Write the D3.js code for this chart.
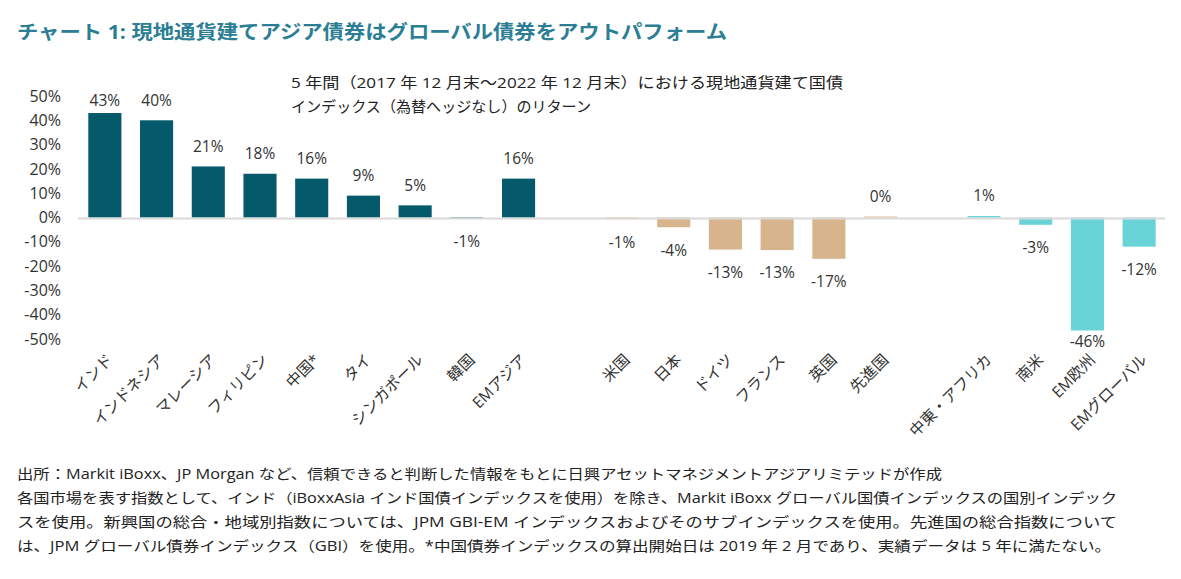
<!DOCTYPE html>
<html><head><meta charset="utf-8">
<script src="https://cdn.jsdelivr.net/npm/d3@7"></script>
<style>
html,body{margin:0;padding:0;background:#fff;}
svg{display:block;font-family:"Open Sans","Noto Sans CJK JP",sans-serif;}
</style></head>
<body>
<svg id="chart" width="1181" height="579"></svg>
<script>
const asiaCats = ["インド","インドネシア","マレーシア","フィリピン","中国*","タイ","シンガポール","韓国","EMアジア"];
const asiaVals = [43, 40, 21, 18, 16, 9, 5, -0.3, 16];
const asiaLabels = ["43%","40%","21%","18%","16%","9%","5%","-1%","16%"];
const dmCats = ["米国","日本","ドイツ","フランス","英国","先進国"];
const dmVals = [-0.7, -4, -13.2, -13.4, -17, 0.4];
const dmLabels = ["-1%","-4%","-13%","-13%","-17%","0%"];
const emCats = ["中東・アフリカ","南米","EM欧州","EMグローバル"];
const emVals = [0.6, -3, -46.5, -12];
const emLabels = ["1%","-3%","-46%","-12%"];
const yTicks = [50,40,30,20,10,0,-10,-20,-30,-40,-50];
const colors = {asia:"#04596A", dm:"#D7B48C", em:"#68D4D7"};

const titleText = "チャート 1: 現地通貨建てアジア債券はグローバル債券をアウトパフォーム";
const subtitleLines = ["5 年間（2017 年 12 月末～2022 年 12 月末）における現地通貨建て国債","インデックス（為替ヘッジなし）のリターン"];
const subtitleWidths = [552, 300];
const footLines = [
 "出所：Markit iBoxx、JP Morgan など、信頼できると判断した情報をもとに日興アセットマネジメントアジアリミテッドが作成",
 "各国市場を表す指数として、インド（iBoxxAsia インド国債インデックスを使用）を除き、Markit iBoxx グローバル国債インデックスの国別インデック",
 "スを使用。新興国の総合・地域別指数については、JPM  GBI-EM  インデックスおよびそのサブインデックスを使用。先進国の総合指数について",
 "は、JPM グローバル債券インデックス（GBI）を使用。*中国債券インデックスの算出開始日は 2019 年 2 月であり、実績データは 5 年に満たない。"
];
const footWidths = [925, 1100, 1100, 1094];

const data = [];
asiaCats.forEach((c,i)=>data.push({key:c,label:c,v:asiaVals[i],t:asiaLabels[i],g:"asia"}));
data.push({key:"gap1",label:"",v:null});
dmCats.forEach((c,i)=>data.push({key:c,label:c,v:dmVals[i],t:dmLabels[i],g:"dm"}));
data.push({key:"gap2",label:"",v:null});
emCats.forEach((c,i)=>data.push({key:c,label:c,v:emVals[i],t:emLabels[i],g:"em"}));

const svg = d3.select("#chart");
const x = d3.scaleBand().domain(data.map(d=>d.key)).range([79,1165]).paddingInner(0.36).paddingOuter(0.18);
const y = d3.scaleLinear().domain([-50,50]).range([339,96]);

// title
svg.append("text").attr("x",17).attr("y",39).attr("font-size",19).attr("font-weight","bold")
  .attr("fill","#2B7E94").attr("textLength",710).attr("lengthAdjust","spacingAndGlyphs").text(titleText);

// subtitle
subtitleLines.forEach((s,i)=>{
  svg.append("text").attr("x",291).attr("y",88+i*24).attr("font-size",15).attr("fill","#222")
    .attr("textLength",subtitleWidths[i]).attr("lengthAdjust","spacingAndGlyphs").text(s);
});

// y axis labels
const yAxis = d3.axisLeft(y).tickValues(yTicks).tickFormat(d=>d+"%").tickSize(0);
const gy = svg.append("g").attr("transform","translate(61,0)").call(yAxis);
gy.select(".domain").remove();
gy.selectAll("text").attr("font-size",16).attr("fill","#333").attr("font-family","'Open Sans',sans-serif").attr("x",0);

// bars
const bars = data.filter(d=>d.v!==null);
svg.append("g").selectAll("rect").data(bars).join("rect")
  .attr("x",d=>x(d.key)).attr("width",x.bandwidth())
  .attr("y",d=>y(Math.max(0,d.v))).attr("height",d=>Math.abs(y(d.v)-y(0)))
  .attr("fill",d=>colors[d.g]);

// zero line
svg.append("line").attr("x1",78).attr("x2",1165).attr("y1",y(0)+1).attr("y2",y(0)+1)
  .attr("stroke","#D9D9D9").attr("stroke-width",2);

// value labels
svg.append("g").selectAll("text").data(bars).join("text")
  .attr("x",d=>x(d.key)+x.bandwidth()/2)
  .attr("y",d=> d.v>=0 ? Math.max(y(d.v)-20,101) : Math.min(y(d.v)+23,342))
  .attr("dy","0.35em").attr("text-anchor","middle").attr("font-size",15.5).attr("fill","#333")
  .text(d=>d.t);

// x labels
svg.append("g").selectAll("text").data(bars).join("text")
  .attr("transform",d=>`translate(${x(d.key)+x.bandwidth()/2+5},${357}) rotate(-45)`)
  .attr("text-anchor","end").attr("dy","0.35em").attr("font-size",15.5).attr("fill","#333")
  .text(d=>d.label);

// footnotes
footLines.forEach((s,i)=>{
  svg.append("text").attr("x",17).attr("y",479+i*24).attr("font-size",14).attr("fill","#222")
    .attr("textLength",footWidths[i]).attr("lengthAdjust","spacingAndGlyphs").text(s);
});
</script>
</body></html>
